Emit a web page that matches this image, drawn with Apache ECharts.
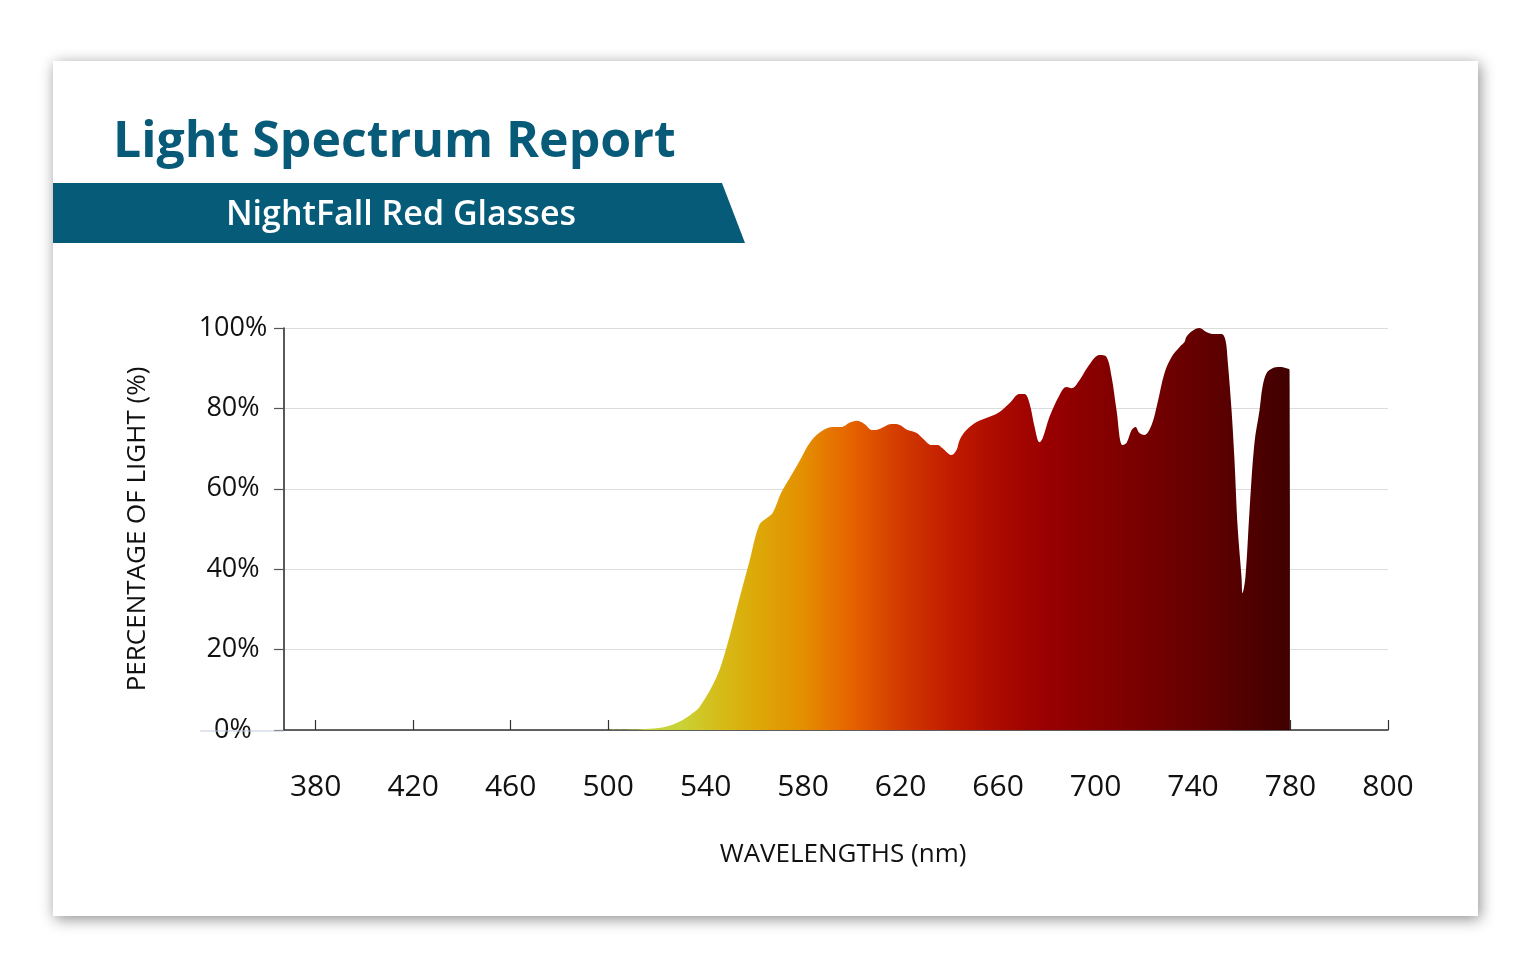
<!DOCTYPE html>
<html>
<head>
<meta charset="utf-8">
<script src="https://cdn.jsdelivr.net/npm/echarts@6/dist/echarts.min.js"></script>
<style>
  html, body { margin: 0; padding: 0; background: #ffffff; }
  #card { position: absolute; left: 53px; top: 61px; width: 1425px; height: 855px; background: #fff;
          box-shadow: 2px 3px 14px rgba(0,0,0,0.45); }
  #chart { position: absolute; left: 0; top: 0; width: 1535px; height: 975px; }
</style>
</head>
<body>
<div id="card"></div>
<div id="chart"></div>
<script>
// ---- data ----
const titleText = 'Light Spectrum Report';
const subtitleText = 'NightFall Red Glasses';
const xAxisName = 'WAVELENGTHS (nm)';
const yAxisName = 'PERCENTAGE OF LIGHT (%)';

// x tick positions (nm on the drawing scale) and their printed labels
const xTickValues = [380, 420, 460, 500, 540, 580, 620, 660, 700, 740, 780, 820];
const xTickLabels = ['380', '420', '460', '500', '540', '580', '620', '660', '700', '740', '780', '800'];

const wavelengths = [500, 510, 517, 524, 530.6, 534.7, 537.5, 544.5, 548.6, 554, 558, 562, 565, 567.5, 571, 574.5,
  578.6, 582.7, 586.8, 592, 596, 599, 602, 605, 608.5, 611.4, 616.3, 619.6, 622.9, 626.6, 629, 632.7, 635.2, 637.2,
  640.9, 643, 644.2, 647, 651.2, 656.5, 660.6, 664.7, 668.8, 670.9, 672.9, 675, 677, 678.3, 681.1, 685.2, 688, 690.2,
  693.4, 697, 701.6, 704.5, 706.6, 708.6, 711, 712.7, 714.8, 716.4, 718, 720, 723, 725.4, 728.3, 731.2, 734.5, 736.5,
  737.3, 739.8, 742.6, 745.5, 748, 751.7, 753.3, 754.2, 755.8, 757, 758.3, 759.9, 760.3, 761.5, 763.2, 765.2, 767.3,
  768.5, 770.2, 772.6, 775.5, 778.3, 779.6, 779.9];
const transmission = [0, 0.1, 0.3, 0.9, 2.5, 4.2, 5.7, 13.2, 20.6, 33, 42, 51, 52.7, 54, 59, 62.7,
  67, 71.4, 74, 75.4, 75.4, 76.4, 76.9, 76.2, 74.6, 74.9, 76.1, 75.9, 74.6, 73.9, 72.6, 70.9, 70.9, 70.1,
  68.4, 69.7, 72.1, 74.6, 76.6, 77.9, 79.1, 81.3, 83.6, 83.6, 81.3, 75.4, 71.6, 72.6, 77.9, 83.3, 85.3, 85,
  87, 90.5, 93.3, 92.8, 87.8, 79.6, 70.9, 71.4, 74.6, 75.4, 73.9, 73.4, 75.9, 81.3, 88.8, 92.8, 95.3, 96.5,
  97.8, 99.3, 100, 99, 98.5, 98.5, 97, 92, 79.6, 67.2, 50.5, 38, 34, 38, 54.7, 71.4, 79.6,
  85.3, 88.8, 90, 90.3, 90, 89.6, 0];

// colour of the fill at given wavelengths
const gradWl =     [500,       530,       545,       560,       580,       600,       620,       640,       660,       680,       700,       740,       780];
const gradColors = ['#c0d844', '#c9d236', '#d5bd1a', '#dcaa08', '#e48f00', '#e66200', '#d23a00', '#c21c00', '#ab0a00', '#990000', '#880000', '#660000', '#400000'];

// ---- chart ----
const chart = echarts.init(document.getElementById('chart'), null, { renderer: 'canvas' });
const wMin = wavelengths[0], wMax = wavelengths[wavelengths.length - 1];
const stops = gradWl.map((w, i) => ({ offset: Math.min(1, Math.max(0, (w - wMin) / (wMax - wMin))), color: gradColors[i] }));
const seriesData = wavelengths.map((w, i) => [w, transmission[i]]);
const FONT = '"Open Sans", Lato, sans-serif';

const option = {
  backgroundColor: 'transparent',
  animation: false,
  title: {
    text: titleText,
    left: 108, top: 113,
    textStyle: { fontFamily: FONT, fontWeight: 700, fontSize: 50, color: '#075b78' }
  },
  grid: { left: 284, top: 328, width: 1104, height: 402, containLabel: false },
  xAxis: {
    type: 'value', min: 367, max: 820,
    name: xAxisName, nameLocation: 'middle', nameGap: 112,
    nameTextStyle: { fontFamily: FONT, fontSize: 26, color: '#111', padding: [0, 0, 0, 14] },
    axisLine: { show: true, lineStyle: { color: '#333', width: 1.5 } },
    axisTick: { show: true, inside: true, length: 10, customValues: xTickValues, lineStyle: { color: '#333', width: 1.2 } },
    axisLabel: {
      customValues: xTickValues, showMinLabel: true, showMaxLabel: true,
      margin: 42, fontFamily: FONT, fontSize: 30, color: '#111',
      formatter: v => { const i = xTickValues.indexOf(v); return i >= 0 ? xTickLabels[i] : ''; }
    },
    splitLine: { show: false }
  },
  yAxis: {
    type: 'value', min: 0, max: 100, interval: 20,
    name: yAxisName, nameLocation: 'middle', nameGap: 133, nameRotate: 90,
    nameTextStyle: { fontFamily: FONT, fontSize: 26, color: '#111' },
    axisLine: { show: true, lineStyle: { color: '#222', width: 1.5 } },
    axisTick: { show: true, inside: false, length: 10, lineStyle: { color: '#555', width: 1.2 } },
    axisLabel: { margin: 51, align: 'center', fontFamily: FONT, fontSize: 27, color: '#111', formatter: '{value}%', padding: [4, 0, 0, 0] },
    splitLine: { show: true, lineStyle: { color: '#dcdcdc', width: 1.2 } }
  },
  series: [{
    type: 'line',
    data: seriesData,
    smooth: 0.35,
    showSymbol: false,
    lineStyle: { width: 0 },
    areaStyle: { opacity: 1, color: new echarts.graphic.LinearGradient(0, 0, 1, 0, stops) },
    z: 3
  }],
  graphic: []
};
chart.setOption(option);

// decorations: banner with subtitle, and the short extension of the 0% line
const y0 = chart.convertToPixel({ yAxisIndex: 0 }, 0);
const xLeft = chart.convertToPixel({ xAxisIndex: 0 }, 367);
chart.setOption({
  graphic: [
    { type: 'polygon', shape: { points: [[53, 183], [722, 183], [745, 243], [53, 243]] }, style: { fill: '#055b78' }, z: 1 },
    { type: 'text', x: 401, y: 215, z: 2,
      style: { text: subtitleText, fill: '#ffffff', font: '600 34px "Open Sans", Lato, sans-serif', textAlign: 'center', textVerticalAlign: 'middle' } },
    { type: 'line', shape: { x1: 200, y1: y0 + 1, x2: xLeft, y2: y0 + 1 }, style: { stroke: '#c3cbdd', lineWidth: 1.2 }, z: 1 }
  ]
});
</script>
</body>
</html>
